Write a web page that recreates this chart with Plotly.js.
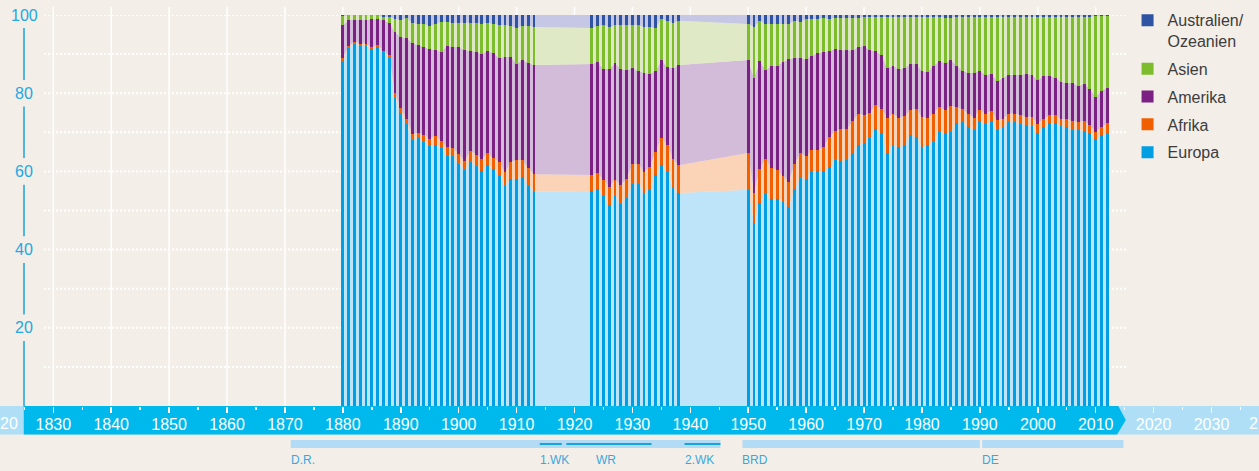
<!DOCTYPE html>
<html>
<head>
<meta charset="utf-8">
<script src="https://cdn.plot.ly/plotly-3.0.1.min.js"></script>
<style>
html,body{margin:0;padding:0;background:#f3eee7;}
#chart{width:1259px;height:471px;}
</style>
</head>
<body>
<div id="chart"></div>
<script>
// ---- data (shares in %) ----
const years = [1880,1881,1882,1883,1884,1885,1886,1887,1888,1889,1890,1891,1892,1893,1894,1895,1896,1897,1898,1899,1900,1901,1902,1903,1904,1905,1906,1907,1908,1909,1910,1911,1912,1913,
1923,1924,1925,1926,1927,1928,1929,1930,1931,1932,1933,1934,1935,1936,1937,1938,
1950,1951,1952,1953,1954,1955,1956,1957,1958,1959,1960,1961,1962,1963,1964,1965,1966,1967,1968,1969,1970,1971,1972,1973,1974,1975,1976,1977,1978,1979,1980,1981,1982,1983,1984,1985,1986,1987,1988,1989,1990,1991,1992,1993,1994,1995,1996,1997,1998,1999,2000,2001,2002,2003,2004,2005,2006,2007,2008,2009,2010,2011,2012];

const europa = [88.2,91.6,92.7,92.2,92.2,91.3,91.8,90.6,89.1,79.0,74.9,72.2,68.1,68.6,67.6,66.6,66.8,66.1,64.0,64.0,62.0,60.4,62.5,61.5,60.1,61.6,60.6,58.9,56.3,58.1,58.1,58.6,56.3,54.8,
55.0,55.4,53.8,51.4,53.8,51.7,53.3,56.8,56.8,54.5,55.2,59.1,61.6,59.9,55.8,54.5,
55.3,46.9,51.9,54.3,52.9,52.9,52.3,50.9,55.5,58.3,58.1,59.8,60.1,60.1,61.1,62.9,62.7,62.9,64.7,66.8,67.3,68.5,70.8,69.8,64.7,66.8,66.2,66.8,69.3,68.8,66.2,66.8,67.6,70.2,69.7,70.2,72.3,72.6,71.3,70.6,72.6,72.1,72.6,70.6,71.4,72.6,72.6,72.2,71.9,71.6,69.7,71.4,72.3,72.3,71.6,71.3,70.6,70.6,70.3,69.9,68.2,69.2,69.7];

const afrika = [0.8,0.5,0.4,0.5,0.5,0.5,0.5,0.3,0.7,1.1,1.2,1.2,1.5,1.2,1.7,1.8,2.3,1.7,2.2,2.0,2.5,2.2,2.8,2.8,3.1,3.0,2.8,3.5,3.5,4.3,4.8,4.3,4.6,4.5,
4.1,4.2,4.0,4.6,4.0,4.9,4.8,5.1,5.1,5.3,5.9,5.9,7.0,6.9,7.4,7.1,
9.4,7.7,8.7,8.9,8.0,7.5,6.5,6.4,6.4,6.4,5.8,5.7,5.4,6.1,7.7,7.4,8.1,7.9,8.2,7.9,7.1,6.4,6.2,6.2,9.0,7.9,7.5,7.4,6.4,7.2,7.7,6.9,7.2,6.2,6.0,6.5,4.1,3.3,3.4,3.1,3.1,2.7,2.8,2.5,2.0,2.2,2.2,2.2,2.1,2.4,2.4,2.0,2.0,2.0,1.8,2.1,2.3,2.0,2.6,1.9,1.9,2.1,2.6];

const amerika = [8.4,6.6,5.6,6.0,6.0,7.1,6.6,7.8,8.2,15.5,18.3,20.7,23.2,22.5,22.5,22.9,21.9,22.8,25.9,25.8,27.3,28.4,25.6,26.2,26.8,26.2,26.9,26.6,29.5,26.9,24.6,25.6,26.8,27.9,
28.4,28.4,28.4,30.2,29.9,29.6,27.8,24.5,23.8,25.4,23.8,20.7,19.9,19.9,23.2,25.6,
23.8,29.3,27.6,22.7,26.1,26.6,29.2,31.4,27.1,24.3,24.8,24.0,24.8,24.3,22.0,21.0,20.2,20.2,18.1,17.1,17.7,16.1,13.8,13.8,12.7,12.3,12.5,12.2,11.8,11.5,11.8,11.7,12.2,11.8,12.0,11.8,10.6,9.8,10.5,11.5,10.0,9.9,9.5,10.0,10.5,9.9,9.9,10.3,10.9,10.7,11.3,11.0,10.1,9.7,9.5,9.2,9.7,9.2,9.5,9.3,9.0,9.3,9.0];

const asien = [2.3,1.2,1.2,1.2,1.2,1.0,1.0,0.8,1.5,3.4,4.3,5.1,5.2,5.4,5.9,5.9,6.7,7.6,6.1,6.1,6.2,7.0,7.1,7.4,7.8,7.2,7.4,8.4,8.1,7.9,9.2,8.7,9.5,9.7,
9.2,9.2,11.2,10.7,9.7,11.2,11.5,11.0,11.7,11.7,12.0,11.0,10.5,11.8,11.5,11.3,
9.2,13.0,10.3,11.8,10.7,10.7,9.7,9.0,9.5,9.2,10.3,9.5,8.7,8.7,8.2,7.9,8.2,8.2,8.2,7.4,7.4,8.5,8.7,9.7,13.1,12.5,13.3,13.1,12.0,12.0,13.8,14.1,12.6,11.4,11.6,10.8,12.6,13.9,14.4,14.4,13.9,14.9,14.7,16.5,15.7,14.9,14.9,14.9,14.7,14.9,16.2,15.2,15.2,15.6,16.7,17.0,17.0,17.8,17.2,18.5,20.6,19.1,18.4];

const australien = [0.3,0.1,0.1,0.1,0.1,0.1,0.1,0.5,0.5,1.0,1.3,0.8,2.0,2.3,2.3,2.8,2.3,1.8,1.8,2.1,2.0,2.0,2.0,2.1,2.2,2.0,2.3,2.6,2.6,2.8,3.3,2.8,2.8,3.1,
3.3,2.8,2.6,3.1,2.6,2.6,2.6,2.6,2.6,3.1,3.1,3.3,1.0,1.5,2.1,1.5,
2.3,3.1,1.5,2.3,2.3,2.3,2.3,2.3,1.5,1.8,1.0,1.0,1.0,0.8,1.0,0.8,0.8,0.8,0.8,0.8,0.5,0.5,0.5,0.5,0.5,0.5,0.5,0.5,0.5,0.5,0.5,0.5,0.4,0.4,0.7,0.7,0.4,0.4,0.4,0.4,0.4,0.4,0.4,0.4,0.4,0.4,0.4,0.4,0.4,0.4,0.4,0.4,0.4,0.4,0.4,0.4,0.4,0.4,0.4,0.4,0.3,0.3,0.3];

const seriesNames = ['Europa','Afrika','Amerika','Asien','Australien/<br>Ozeanien'];
const darkColors  = ['#009fe3','#f06000','#7a2183','#7dbd2d','#2f53a3'];
const lightColors = ['#bde4f9','#fbd3b6','#d3bbda','#dfe9c6','#c5c7e4'];

const xTickYears = [1830,1840,1850,1860,1870,1880,1890,1900,1910,1920,1930,1940,1950,1960,1970,1980,1990,2000,2010,2020,2030];
const gridYears  = [1830,1840,1850,1860,1870,1880,1890,1900,1910,1920,1930,1940,1950,1960,1970,1980,1990,2000,2010];
// partially visible tick labels at the page edges (1820 / 2040)
const edgeTexts  = ['20','2'];
const edgeAnchor = ['left','right'];
const edgePos    = [0,1];
const yTicks = [20,40,60,80,100];
const yGrid = [10,20,30,40,50,60,70,80,90,100];

// historical periods
const periodNames  = ['D.R.','BRD','DE'];
const periodStart  = [1871,1949,1990.4];
const periodEnd    = [1945.2,1990,2014.8];
const eventNames   = ['1.WK','WR','2.WK'];
const eventStart   = [1914,1918.6,1939];
const eventEnd     = [1917.8,1933.3,1945.2];
const eventLabelX  = [1914,1923.7,1939];

// ---- build ----
const allSeries = [europa, afrika, amerika, asien, australien];
const X0 = 1820.796, X1 = 2038.2;
const pyToPaper = py => (406 - py) / 391;

const traces = [];
allSeries.forEach((s, i) => {
  traces.push({
    type:'scatter', x: years, y: s, stackgroup:'area', mode:'none',
    fillcolor: lightColors[i], line:{width:0}, showlegend:false, hoverinfo:'skip',
    xaxis:'x', yaxis:'y'
  });
});
allSeries.forEach((s, i) => {
  traces.push({
    type:'bar', x: years, y: s, name: seriesNames[i], width: 0.5,
    marker:{color: darkColors[i], line:{width:0}},
    xaxis:'x2', yaxis:'y', hoverinfo:'skip', legendgroup:'g'+i, legendrank: 10 - i
  });
});

const shapes = [];
shapes.push({type:'rect', xref:'paper', yref:'paper', x0:-0.01, x1:1.01, y0:pyToPaper(406), y1:pyToPaper(434.5),
  fillcolor:'#aedff7', line:{width:0}, layer:'below'});
shapes.push({type:'path', xref:'x', yref:'paper', layer:'below', fillcolor:'#00b9ec', line:{width:0},
  path:`M1824.9,${pyToPaper(406)} L2013.9,${pyToPaper(406)} L2015.2,${pyToPaper(420)} L2013.7,${pyToPaper(434.5)} L1824.9,${pyToPaper(434.5)} Z`});
gridYears.forEach(g => shapes.push({type:'line', xref:'x', yref:'paper', x0:g, x1:g, y0:0, y1:pyToPaper(7),
  line:{color:'#ffffff', width:1.5}, layer:'below'}));
yGrid.forEach(v => shapes.push({type:'line', xref:'x', yref:'y', x0:1828.4, x1:2015.3, y0:v, y1:v,
  line:{color:'#ffffff', width:2, dash:'2px,2px'}, layer:'below'}));
const segs = [[0,16.6],[23.4,36.6],[43.4,56.6],[63.4,76.6],[83.4,96.7]];
segs.forEach(s => shapes.push({type:'line', xref:'x', yref:'y', x0:1824.94, x1:1824.94, y0:s[0], y1:s[1],
  line:{color:'#1aa3df', width:1.5}, layer:'above'}));
periodNames.forEach((n,i) => shapes.push({type:'rect', xref:'x', yref:'paper', x0:periodStart[i], x1:periodEnd[i],
  y0:pyToPaper(440), y1:pyToPaper(448), fillcolor:'#b2dcf5', line:{width:0}}));
eventNames.forEach((n,i) => shapes.push({type:'line', xref:'x', yref:'paper', x0:eventStart[i], x1:eventEnd[i],
  y0:pyToPaper(444), y1:pyToPaper(444), line:{color:'#17a2e0', width:2}}));

const annotations = [];
const fontFam = 'Liberation Sans, Arial, sans-serif';
yTicks.forEach(v => annotations.push({xref:'x', yref:'y', x:1824.94, y:v, text:String(v), showarrow:false,
  xanchor:'center', yanchor:'middle', font:{family:fontFam, size:16, color:'#24a8e2'}}));
edgeTexts.forEach((t,i) => annotations.push({xref:'paper', yref:'paper', x:edgePos[i], y:pyToPaper(424), text:t,
  showarrow:false, xanchor:edgeAnchor[i], yanchor:'middle', xshift: i===0 ? -2 : 1,
  font:{family:fontFam, size:16, color:'#ffffff'}}));
periodNames.forEach((n,i) => annotations.push({xref:'x', yref:'paper', x:periodStart[i], y:pyToPaper(460), text:n,
  showarrow:false, xanchor:'left', yanchor:'middle', xshift:-2, font:{family:fontFam, size:12, color:'#3aa8de'}}));
eventNames.forEach((n,i) => annotations.push({xref:'x', yref:'paper', x:eventLabelX[i], y:pyToPaper(460), text:n,
  showarrow:false, xanchor:'left', yanchor:'middle', xshift:-2, font:{family:fontFam, size:12, color:'#3aa8de'}}));

const layout = {
  width:1259, height:471,
  margin:{l:0, r:0, t:15, b:65, pad:0},
  paper_bgcolor:'#f3eee7', plot_bgcolor:'rgba(0,0,0,0)',
  barmode:'stack', hovermode:false,
  font:{family:fontFam},
  xaxis:{range:[X0, X1], tickmode:'array', tickvals:xTickYears, ticktext:xTickYears.map(String),
    tickfont:{family:fontFam, size:16, color:'#ffffff'}, ticks:'outside', ticklen:6, tickwidth:1.5, tickcolor:'#ffffff',
    ticklabelstandoff:-2,
    minor:{dtick:5, tick0:1825, ticks:'outside', ticklen:3, tickwidth:1.5, tickcolor:'#ffffff', showgrid:false},
    showgrid:false, zeroline:false, showline:false, fixedrange:true},
  xaxis2:{overlaying:'x', matches:'x', visible:false, range:[X0, X1]},
  yaxis:{range:[0,100], showticklabels:false, showgrid:false, zeroline:false, showline:false, ticks:'', fixedrange:true},
  legend:{x:0.8956, y:1.03, xanchor:'left', yanchor:'top', traceorder:'grouped', valign:'top',
    font:{family:fontFam, size:16, color:'#3c3c3c'}, bgcolor:'rgba(0,0,0,0)', tracegroupgap:4, itemclick:false},
  shapes:shapes, annotations:annotations
};

Plotly.newPlot('chart', traces, layout, {displayModeBar:false, staticPlot:true});
</script>
</body>
</html>
